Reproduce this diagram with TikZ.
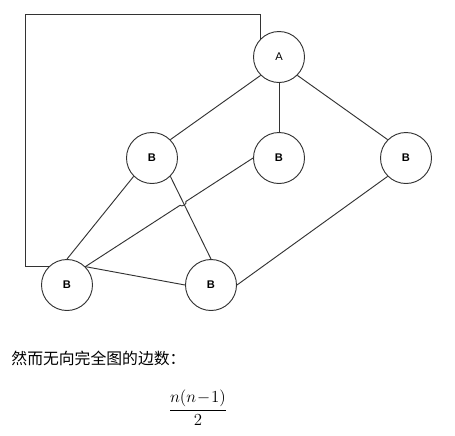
\documentclass[tikz,border=0pt]{standalone}
\usepackage{amsmath,amssymb}
\usepackage{fontspec}
\usepackage{xcolor}
\usepackage{tikz}
\usetikzlibrary{positioning, calc}
\newfontfamily\nodefont{Liberation Sans}
\newfontfamily\cjkfont{Noto Sans CJK SC}
\definecolor{edgegray}{HTML}{333333}

\begin{document}
\begin{tikzpicture}[x=0.03cm, y=-0.03cm, line width=0.8pt, draw=edgegray,
    vertex/.style={circle, draw=edgegray, fill=white, minimum size=1.53cm, inner sep=0pt, font=\nodefont\fontsize{9.5}{11}\selectfont}]
    \useasboundingbox (0,0) rectangle (455,435);

    \node (a) [vertex] at (279,57) {A};
    \node (b1) [vertex] at (152,158) {\bfseries B};
    \node (b2) [vertex] at (279,158) {\bfseries B};
    \node (b3) [vertex] at (406,158) {\bfseries B};
    \node (b4) [vertex] at (67,285) {\bfseries B};
    \node (b5) [vertex] at (211,285) {\bfseries B};
    \coordinate (corner) at (25,14);

    \draw (a.north west) |- (corner) |- (b4.north west);
    \draw (a.south west) -- (b1.north east);
    \draw (a.south) -- (b2.north);
    \draw (a.south east) -- (b3.north west);
    \draw (b1.south west) -- (b4.north);
    \draw (b1.south east) -- (b5.north);
    \draw (b2.west) -- ($(b2.west)!0.40!(b4.north east)$) to[bend left=90] ($(b2.west)!0.435!(b4.north east)$) -- (b4.north east);
    \draw (b4.north east) -- (b5.west);
    \draw (b5.east) -- (b3.south west);

    \node (caption) [anchor=west, inner sep=0pt, font=\cjkfont\fontsize{13.5}{16}\selectfont] at (11,358) {然而无向完全图的边数：};
    \node (formula) [inner sep=0pt, font=\fontsize{14}{17}\selectfont] at (198,408) {$\displaystyle\frac{n(n\!-\!1)}{2}$};
\end{tikzpicture}
\end{document}
